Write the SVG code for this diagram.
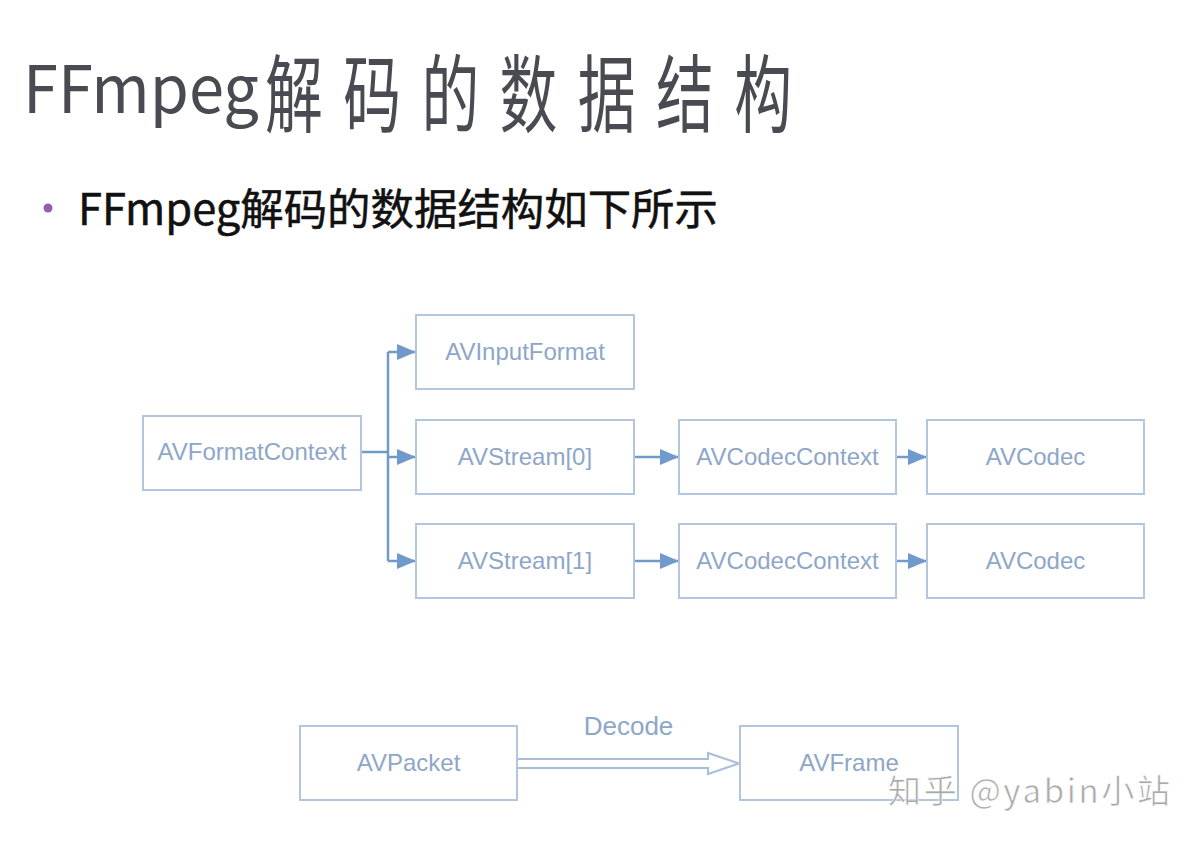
<svg xmlns="http://www.w3.org/2000/svg" width="1200" height="846" viewBox="0 0 1200 846">
<defs>
<style>
.box{fill:#ffffff;stroke:#b3c6df;stroke-width:2}
.lbl{font-family:"Liberation Sans",Arial,sans-serif;font-size:24px;fill:#8ea6c8;text-anchor:middle}
.con{fill:none;stroke:#6f9acb;stroke-width:2.5}
.cjk{font-family:"Noto Sans CJK SC","Noto Sans",sans-serif}
</style>
<marker id="ah" markerWidth="19" markerHeight="16" refX="19" refY="8" orient="auto" markerUnits="userSpaceOnUse">
<path d="M0,0 L19,8 L0,16 Z" fill="#6f9acb"/>
</marker>
</defs>
<rect width="1200" height="846" fill="#ffffff"/>

<g id="title">
<text class="cjk" x="23" y="113" font-size="66" fill="#4a4b52" textLength="236" lengthAdjust="spacingAndGlyphs">FFmpeg</text>
<text class="cjk" transform="translate(265,126) scale(0.68,1)" font-size="85" letter-spacing="30" fill="#4a4b52">解码的数据结构</text>
</g>

<g id="bullet">
<circle cx="48" cy="208" r="4.5" fill="#9b59b6"/>
<text class="cjk" x="78" y="225" font-size="43.5" fill="#111111" stroke="#111111" stroke-width="0.5" textLength="640" lengthAdjust="spacingAndGlyphs">FFmpeg解码的数据结构如下所示</text>
</g>

<g id="connectors">
<path class="con" d="M361,452 H388"/>
<path class="con" d="M388,352 V561"/>
<path class="con" d="M388,352 H416" marker-end="url(#ah)"/>
<path class="con" d="M388,457 H416" marker-end="url(#ah)"/>
<path class="con" d="M388,561 H416" marker-end="url(#ah)"/>
<path class="con" d="M634,457 H679" marker-end="url(#ah)"/>
<path class="con" d="M634,561 H679" marker-end="url(#ah)"/>
<path class="con" d="M896,457 H927" marker-end="url(#ah)"/>
<path class="con" d="M896,561 H927" marker-end="url(#ah)"/>
<path d="M517,759 H708 V753 L739,763.5 L708,774 V768 H517" fill="#ffffff" stroke="#a9bedb" stroke-width="2" stroke-linejoin="miter"/>
<text x="628.5" y="735" font-family="Liberation Sans,Arial,sans-serif" font-size="26" fill="#8ea6c8" text-anchor="middle">Decode</text>
</g>

<g id="AVFormatContext"><rect class="box" x="143" y="416" width="218" height="74"/><text class="lbl" x="252" y="460">AVFormatContext</text></g>
<g id="AVInputFormat"><rect class="box" x="416" y="315" width="218" height="74"/><text class="lbl" x="525" y="360">AVInputFormat</text></g>
<g id="AVStream0"><rect class="box" x="416" y="420" width="218" height="74"/><text class="lbl" x="525" y="465">AVStream[0]</text></g>
<g id="AVStream1"><rect class="box" x="416" y="524" width="218" height="74"/><text class="lbl" x="525" y="569">AVStream[1]</text></g>
<g id="AVCodecContext0"><rect class="box" x="679" y="420" width="217" height="74"/><text class="lbl" x="787.5" y="465">AVCodecContext</text></g>
<g id="AVCodecContext1"><rect class="box" x="679" y="524" width="217" height="74"/><text class="lbl" x="787.5" y="569">AVCodecContext</text></g>
<g id="AVCodec0"><rect class="box" x="927" y="420" width="217" height="74"/><text class="lbl" x="1035.5" y="465">AVCodec</text></g>
<g id="AVCodec1"><rect class="box" x="927" y="524" width="217" height="74"/><text class="lbl" x="1035.5" y="569">AVCodec</text></g>
<g id="AVPacket"><rect class="box" x="300" y="726" width="217" height="74"/><text class="lbl" x="408.5" y="771">AVPacket</text></g>
<g id="AVFrame"><rect class="box" x="740" y="726" width="218" height="74"/><text class="lbl" x="849" y="771">AVFrame</text></g>

<g id="watermark">
<text class="cjk" x="888" y="803" font-size="33" fill="#aaaaaa" stroke="#ffffff" stroke-width="0.6" textLength="282" lengthAdjust="spacing">知乎 @yabin小站</text>
</g>
</svg>
